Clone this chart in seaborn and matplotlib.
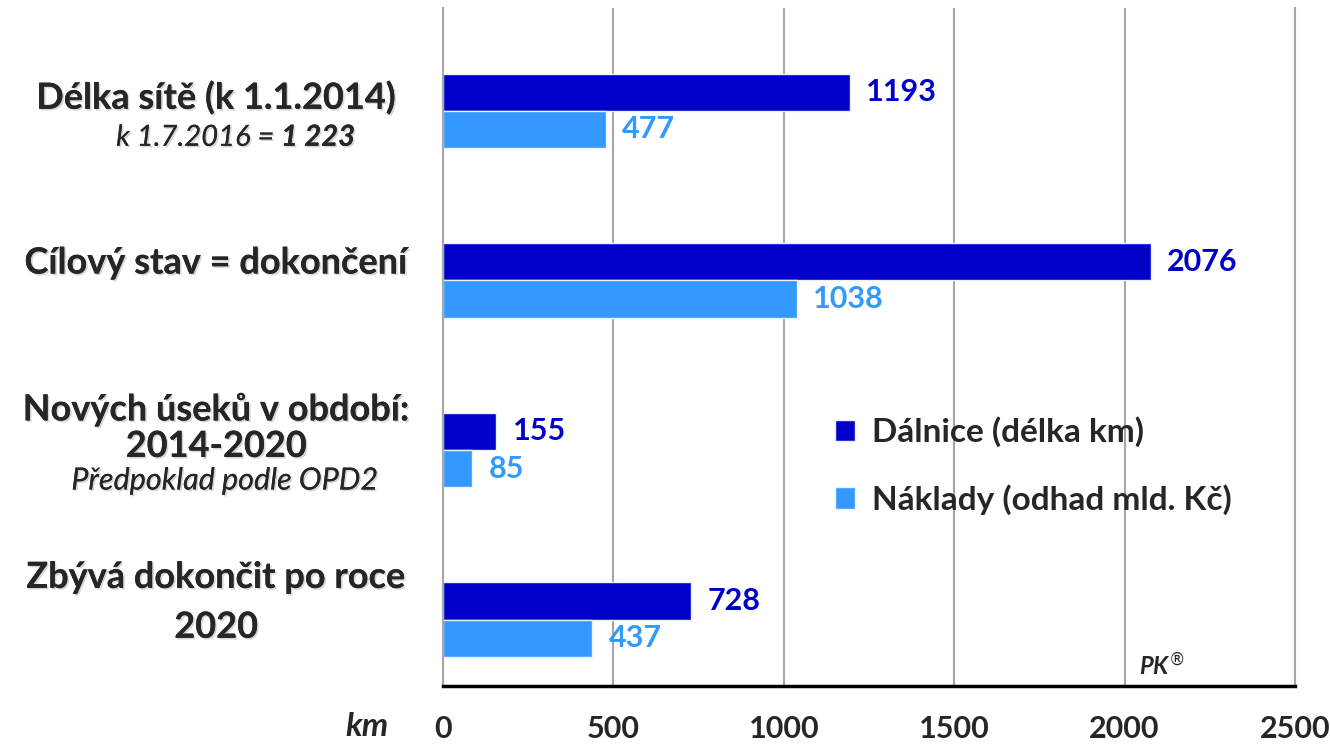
import pandas as pd
import seaborn as sns
import matplotlib.pyplot as plt
import matplotlib.patheffects as pe

# data
categories = ['delka', 'cil', 'nove', 'zbyva']
dalnice_km = [1193, 2076, 155, 728]
naklady_mld = [477, 1038, 85, 437]
series_names = ['Dálnice (délka km)', 'Náklady (odhad mld. Kč)']
x_ticks = [0, 500, 1000, 1500, 2000, 2500]

# category label lines: (category index, text, baseline offset, style)
label_lines = [
    (0, 'Délka sítě (k 1.1.2014)', -0.012, 'bold'),
    (1, 'Cílový stav = dokončení', -0.041, 'bold'),
    (2, 'Nových úseků v období:', -0.175, 'bold'),
    (2, '2014-2020', 0.04, 'bold'),
    (2, 'Předpoklad podle OPD2', 0.232, 'italic'),
    (3, 'Zbývá dokončit po roce', -0.188, 'bold'),
    (3, '2020', 0.106, 'bold'),
]

dark = '#0000C8'
light = '#3399FF'

df = pd.DataFrame({
    'kategorie': categories * 2,
    'hodnota': dalnice_km + naklady_mld,
    'serie': [series_names[0]] * 4 + [series_names[1]] * 4,
})

sns.set_style('white')
plt.rcParams['font.family'] = ['Lato', 'DejaVu Sans']

fig = plt.figure(figsize=(13.3, 7.44), dpi=100)
ax = fig.add_axes([0.3331, 0.078, 0.6406, 0.911])

sns.barplot(data=df, y='kategorie', x='hodnota', hue='serie', orient='h',
            palette=[dark, light], saturation=1, width=0.44, ax=ax,
            edgecolor='#e8f3ff', linewidth=1)

ax.set_xlim(0, 2500)
ax.set_ylim(3.39, -0.605)
ax.set_xticks(x_ticks)
ax.set_xlabel('')
ax.set_ylabel('')
ax.tick_params(axis='y', left=False, labelleft=False)
ax.tick_params(axis='x', direction='out', length=8, width=2.5, color='black',
               pad=13, labelsize=22)
for t in ax.get_xticklabels():
    t.set_fontweight('bold')

ax.grid(axis='x', color='#a6a6a6', lw=1.5)
ax.grid(axis='y', visible=False)
ax.set_axisbelow(True)
ax.spines['top'].set_visible(False)
ax.spines['left'].set_color('#a6a6a6')
ax.spines['left'].set_linewidth(1.5)
ax.spines['right'].set_color('#a6a6a6')
ax.spines['right'].set_linewidth(1.5)
ax.spines['bottom'].set_color('black')
ax.spines['bottom'].set_linewidth(2.5)

# value labels
for cont, col in zip(ax.containers, [dark, light]):
    ax.bar_label(cont, fmt='%d', padding=12, color=col, fontsize=22,
                 fontweight='bold')

# category labels
shadow = [pe.withSimplePatchShadow(offset=(1.2, -1.2), shadow_rgbFace='0.55',
                                   alpha=0.35), pe.Normal()]
ytr = ax.get_yaxis_transform()
cx = (216 - 443) / 852
for i, txt, off, style in label_lines:
    if style == 'bold':
        ax.text(cx, i + off, txt, transform=ytr, ha='center', va='baseline',
                fontsize=26, fontweight='bold', path_effects=shadow)
    else:
        ax.text(cx + 0.01, i + off, txt, transform=ytr, ha='center',
                va='baseline', fontsize=22, style='italic',
                path_effects=shadow)

# sub label with bold part
sx = (281 - 443) / 852
ax.text(sx, 0.206, 'k 1.7.2016 = ', transform=ytr, ha='right', va='baseline',
        fontsize=21, style='italic', path_effects=shadow)
ax.text(sx, 0.206, '1 223', transform=ytr, ha='left', va='baseline',
        fontsize=21, style='italic', fontweight='bold', path_effects=shadow)

# km unit and signature
ax.text(-0.089, -0.06, 'km', transform=ax.transAxes, ha='center', va='center',
        fontsize=24, style='italic', fontweight='bold')
ax.text(0.844, 0.03, 'PK$^{®}$', transform=ax.transAxes, ha='center',
        va='center', fontsize=17, style='italic', fontweight='bold')

handles, labels = ax.get_legend_handles_labels()
ax.legend(handles, labels, loc='upper left', bbox_to_anchor=(0.44, 0.422),
          frameon=False, handlelength=0.62, handleheight=0.62,
          handletextpad=0.5, labelspacing=1.1, borderpad=0,
          prop={'size': 24, 'weight': 'bold'})

fig.savefig('out.png', dpi=100)
